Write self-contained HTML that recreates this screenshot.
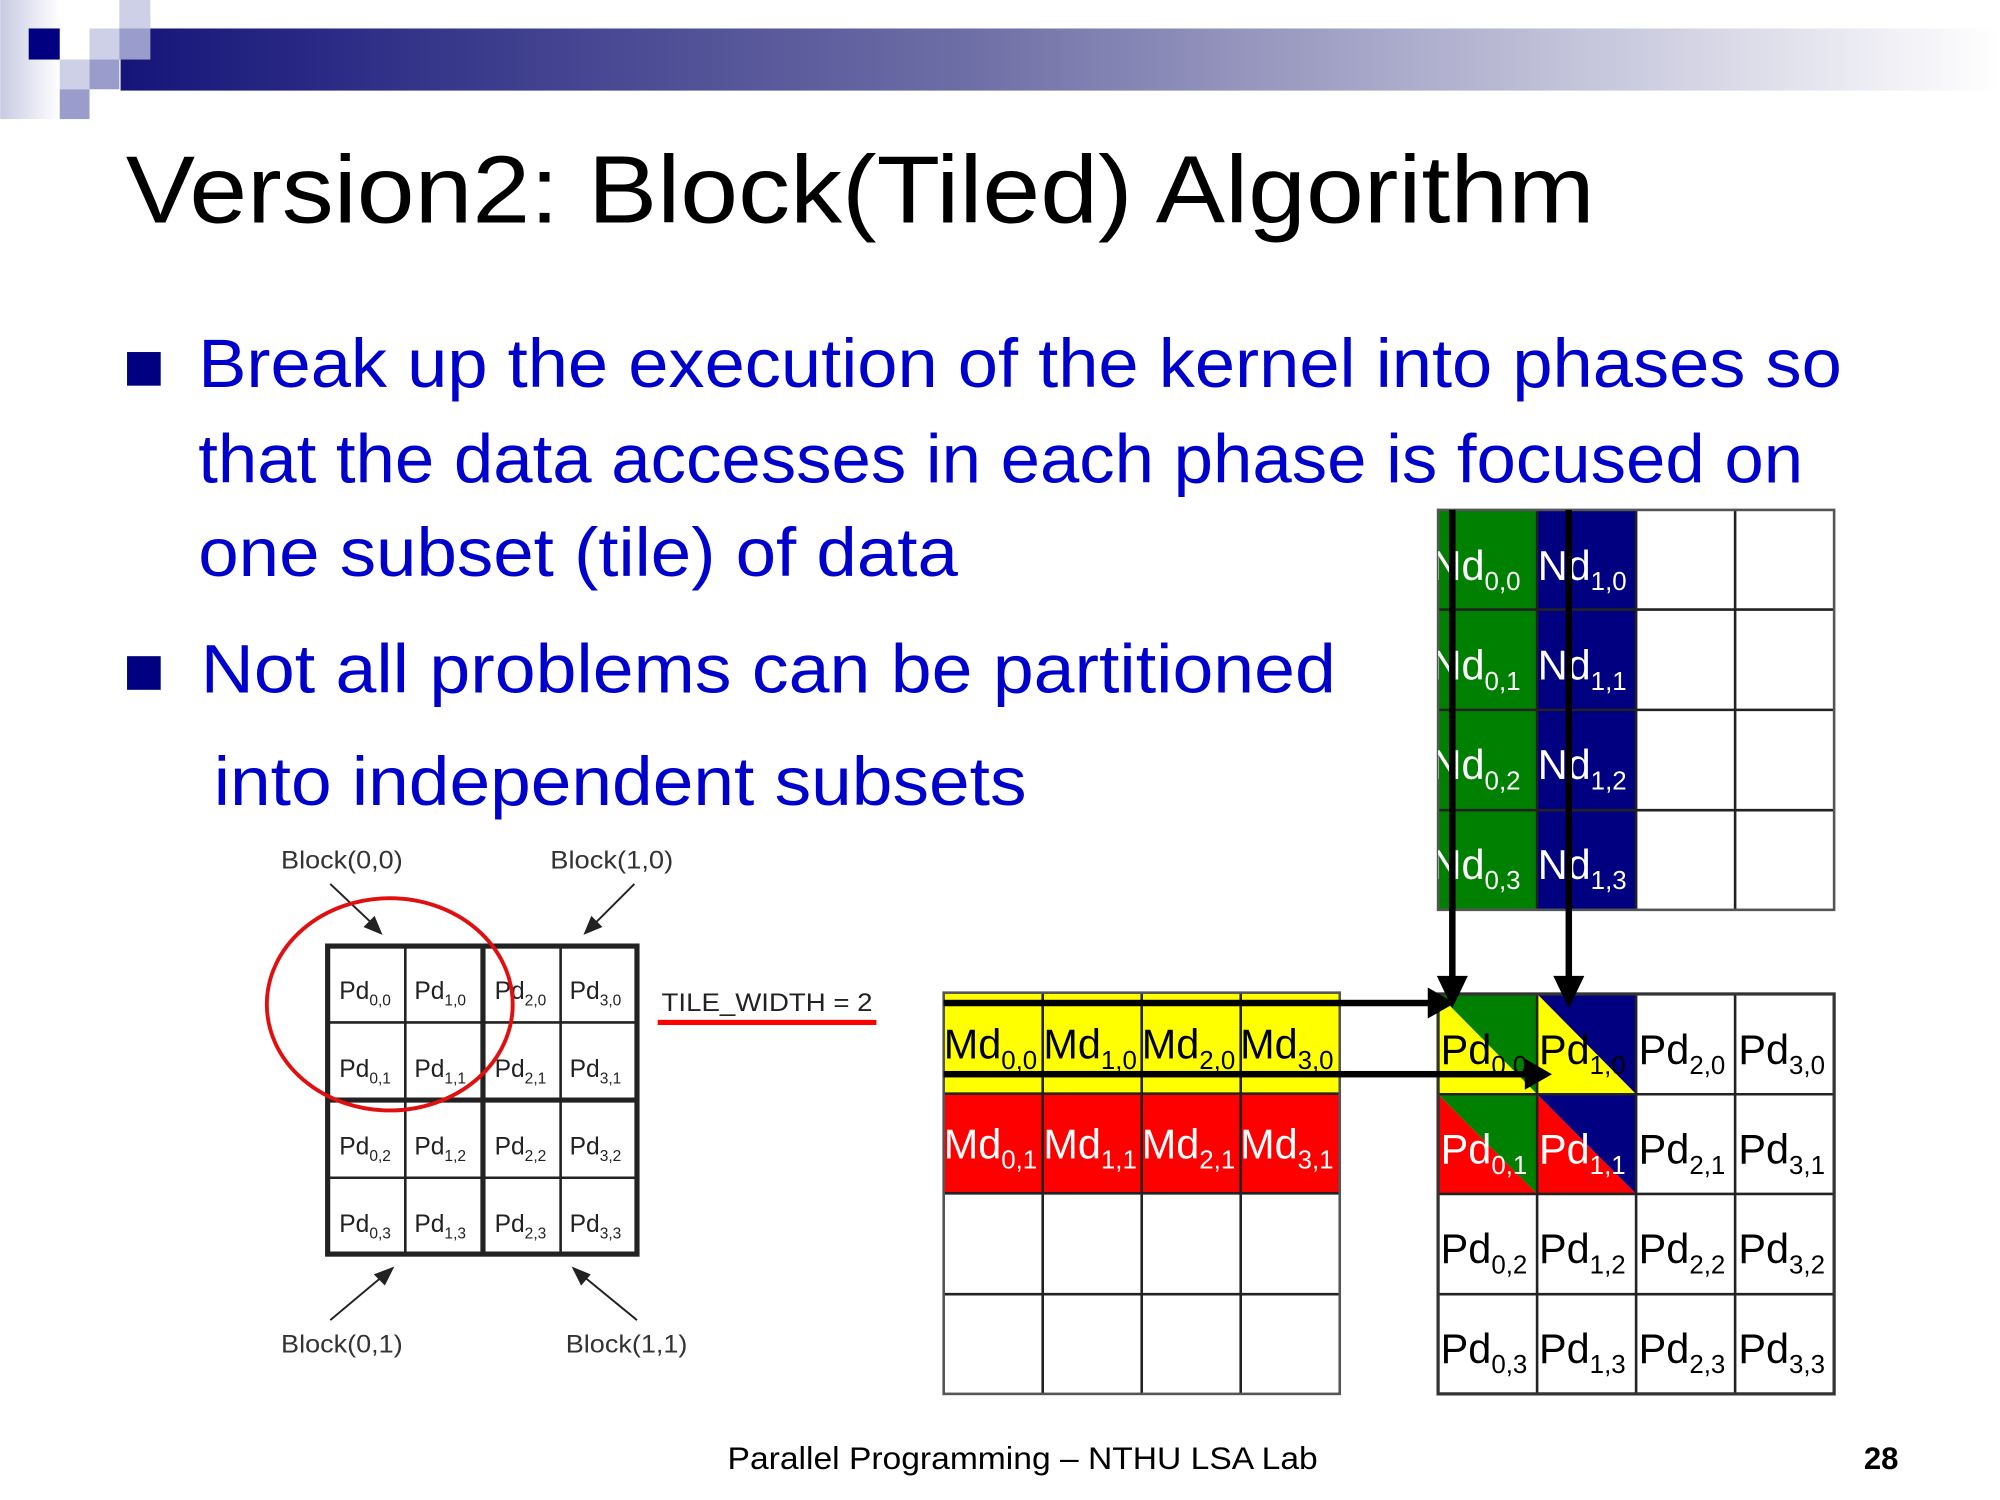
<!DOCTYPE html>
<html><head><meta charset="utf-8"><style>
html,body{margin:0;padding:0;background:#fff;width:2000px;height:1500px;overflow:hidden}
svg{display:block}
</style></head><body>
<svg width="2000" height="1500" viewBox="0 0 1545 1159" xmlns="http://www.w3.org/2000/svg" font-family="'Liberation Sans', sans-serif">
<defs>
<linearGradient id="bar" x1="0" x2="1" y1="0" y2="0">
<stop offset="0" stop-color="#15157a"/><stop offset="0.45" stop-color="#6e6ea6"/><stop offset="1" stop-color="#ffffff"/>
</linearGradient>
<linearGradient id="lstrip" x1="0" x2="1" y1="0" y2="0">
<stop offset="0" stop-color="#c8cae2"/><stop offset="1" stop-color="#ffffff"/>
</linearGradient>
<clipPath id="nclip"><rect x="1111" y="394" width="306" height="309"/></clipPath>
</defs>
<rect width="1545" height="1159" fill="#fff"/>
<rect x="0" y="0" width="46" height="92" fill="url(#lstrip)"/>
<rect x="93" y="22" width="1452" height="48" fill="url(#bar)"/>
<rect x="22" y="22" width="24" height="24" fill="#000080"/>
<rect x="69" y="22" width="23" height="24" fill="#cdd0e6"/>
<rect x="92" y="0" width="24" height="22" fill="#cdd0e6"/>
<rect x="92" y="22" width="24" height="24" fill="#9a9dcc"/>
<rect x="46" y="46" width="23" height="23" fill="#cdd0e6"/>
<rect x="69" y="46" width="23" height="23" fill="#9a9dcc"/>
<rect x="46" y="69" width="23" height="23" fill="#9a9dcc"/>
<text x="97" y="172" font-size="74" fill="#000" textLength="1135" lengthAdjust="spacingAndGlyphs">Version2: Block(Tiled) Algorithm</text>
<rect x="98" y="272" width="26" height="26" fill="#000080"/>
<rect x="98" y="507" width="26" height="26" fill="#000080"/>
<g font-size="53" fill="#0000cc">
<text x="153" y="299" textLength="1270" lengthAdjust="spacingAndGlyphs">Break up the execution of the kernel into phases so</text>
<text x="153" y="373" textLength="1240" lengthAdjust="spacingAndGlyphs">that the data accesses in each phase is focused on</text>
<text x="153" y="445" textLength="587" lengthAdjust="spacingAndGlyphs">one subset (tile) of data</text>
<text x="155" y="535" textLength="877" lengthAdjust="spacingAndGlyphs">Not all problems can be partitioned</text>
<text x="165" y="622" textLength="628" lengthAdjust="spacingAndGlyphs">into independent subsets</text>
</g>
<g font-size="19" fill="#333">
<text x="217" y="671" textLength="94" lengthAdjust="spacingAndGlyphs">Block(0,0)</text>
<text x="425" y="671" textLength="95" lengthAdjust="spacingAndGlyphs">Block(1,0)</text>
<text x="217" y="1045" textLength="94" lengthAdjust="spacingAndGlyphs">Block(0,1)</text>
<text x="437" y="1045" textLength="94" lengthAdjust="spacingAndGlyphs">Block(1,1)</text>
</g>
<g stroke="#222" stroke-width="1.5" fill="#222">
<line x1="255" y1="683" x2="290" y2="716"/><polygon points="294,721 282,716 289,709"/>
<line x1="490" y1="683" x2="457" y2="716"/><polygon points="452,721 457,709 464,716"/>
<line x1="255" y1="1020" x2="298" y2="984"/><polygon points="303,980 297,992 290,985"/>
<line x1="492" y1="1020" x2="448" y2="984"/><polygon points="443,980 455,985 449,992"/>
</g>
<g stroke="#222" fill="none">
<line x1="313" y1="730" x2="313" y2="970" stroke-width="2"/>
<line x1="433" y1="730" x2="433" y2="970" stroke-width="2"/>
<line x1="252" y1="790" x2="493" y2="790" stroke-width="2"/>
<line x1="252" y1="910" x2="493" y2="910" stroke-width="2"/>
<line x1="373" y1="730" x2="373" y2="970" stroke-width="4"/>
<line x1="252" y1="850" x2="493" y2="850" stroke-width="4"/>
<rect x="253" y="731" width="239" height="238" stroke-width="4"/>
</g>
<g font-size="19" fill="#222">
<text x="262" y="772">Pd<tspan font-size="12" dy="5">0,0</tspan></text>
<text x="320" y="772">Pd<tspan font-size="12" dy="5">1,0</tspan></text>
<text x="382" y="772">Pd<tspan font-size="12" dy="5">2,0</tspan></text>
<text x="440" y="772">Pd<tspan font-size="12" dy="5">3,0</tspan></text>
<text x="262" y="832">Pd<tspan font-size="12" dy="5">0,1</tspan></text>
<text x="320" y="832">Pd<tspan font-size="12" dy="5">1,1</tspan></text>
<text x="382" y="832">Pd<tspan font-size="12" dy="5">2,1</tspan></text>
<text x="440" y="832">Pd<tspan font-size="12" dy="5">3,1</tspan></text>
<text x="262" y="892">Pd<tspan font-size="12" dy="5">0,2</tspan></text>
<text x="320" y="892">Pd<tspan font-size="12" dy="5">1,2</tspan></text>
<text x="382" y="892">Pd<tspan font-size="12" dy="5">2,2</tspan></text>
<text x="440" y="892">Pd<tspan font-size="12" dy="5">3,2</tspan></text>
<text x="262" y="952">Pd<tspan font-size="12" dy="5">0,3</tspan></text>
<text x="320" y="952">Pd<tspan font-size="12" dy="5">1,3</tspan></text>
<text x="382" y="952">Pd<tspan font-size="12" dy="5">2,3</tspan></text>
<text x="440" y="952">Pd<tspan font-size="12" dy="5">3,3</tspan></text>
</g>
<ellipse cx="301" cy="776" rx="95" ry="82" fill="none" stroke="#e01010" stroke-width="3"/>
<text x="511" y="781" font-size="19" fill="#222" textLength="163" lengthAdjust="spacingAndGlyphs">TILE_WIDTH = 2</text>
<rect x="508" y="788" width="169" height="4" fill="#ff0000"/>
<rect x="729" y="767" width="306" height="78" fill="#ffff00"/>
<rect x="729" y="845" width="306" height="77" fill="#ff0000"/>
<g stroke="#222" stroke-width="2" fill="none">
<line x1="805.5" y1="767" x2="805.5" y2="1077"/><line x1="882" y1="767" x2="882" y2="1077"/><line x1="958.5" y1="767" x2="958.5" y2="1077"/>
<line x1="729" y1="845" x2="1035" y2="845"/><line x1="729" y1="922" x2="1035" y2="922"/><line x1="729" y1="1000" x2="1035" y2="1000"/>
<rect x="729" y="767" width="306" height="310" stroke="#555"/>
</g>
<g font-size="32" fill="#000">
<text x="729" y="818">Md<tspan font-size="20" dy="8">0,0</tspan></text>
<text x="806" y="818">Md<tspan font-size="20" dy="8">1,0</tspan></text>
<text x="882" y="818">Md<tspan font-size="20" dy="8">2,0</tspan></text>
<text x="958" y="818">Md<tspan font-size="20" dy="8">3,0</tspan></text>
</g>
<g font-size="32" fill="#fff">
<text x="729" y="895">Md<tspan font-size="20" dy="8">0,1</tspan></text>
<text x="806" y="895">Md<tspan font-size="20" dy="8">1,1</tspan></text>
<text x="882" y="895">Md<tspan font-size="20" dy="8">2,1</tspan></text>
<text x="958" y="895">Md<tspan font-size="20" dy="8">3,1</tspan></text>
</g>
<rect x="1111" y="394" width="76.5" height="309" fill="#008000"/>
<rect x="1187.5" y="394" width="76.5" height="309" fill="#000080"/>
<g stroke="#222" stroke-width="2" fill="none">
<line x1="1187.5" y1="394" x2="1187.5" y2="703"/><line x1="1264" y1="394" x2="1264" y2="703"/><line x1="1340.5" y1="394" x2="1340.5" y2="703"/>
<line x1="1111" y1="471" x2="1417" y2="471"/><line x1="1111" y1="548.5" x2="1417" y2="548.5"/><line x1="1111" y1="626" x2="1417" y2="626"/>
<rect x="1111" y="394" width="306" height="309" stroke="#555"/>
</g>
<g font-size="32" fill="#fff" clip-path="url(#nclip)">
<text x="1106" y="448">Nd<tspan font-size="20" dy="8">0,0</tspan></text>
<text x="1188" y="448">Nd<tspan font-size="20" dy="8">1,0</tspan></text>
<text x="1106" y="525">Nd<tspan font-size="20" dy="8">0,1</tspan></text>
<text x="1188" y="525">Nd<tspan font-size="20" dy="8">1,1</tspan></text>
<text x="1106" y="602">Nd<tspan font-size="20" dy="8">0,2</tspan></text>
<text x="1188" y="602">Nd<tspan font-size="20" dy="8">1,2</tspan></text>
<text x="1106" y="679">Nd<tspan font-size="20" dy="8">0,3</tspan></text>
<text x="1188" y="679">Nd<tspan font-size="20" dy="8">1,3</tspan></text>
</g>
<polygon points="1111,768 1187.5,768 1187.5,845.5" fill="#008000"/>
<polygon points="1111,768 1187.5,845.5 1111,845.5" fill="#ffff00"/>
<polygon points="1187.5,768 1264,768 1264,845.5" fill="#000080"/>
<polygon points="1187.5,768 1264,845.5 1187.5,845.5" fill="#ffff00"/>
<polygon points="1111,845.5 1187.5,845.5 1187.5,922.5" fill="#008000"/>
<polygon points="1111,845.5 1187.5,922.5 1111,922.5" fill="#ff0000"/>
<polygon points="1187.5,845.5 1264,845.5 1264,922.5" fill="#000080"/>
<polygon points="1187.5,845.5 1264,922.5 1187.5,922.5" fill="#ff0000"/>
<g stroke="#222" stroke-width="2" fill="none">
<line x1="1187.5" y1="768" x2="1187.5" y2="1077"/><line x1="1264" y1="768" x2="1264" y2="1077"/><line x1="1340.5" y1="768" x2="1340.5" y2="1077"/>
<line x1="1111" y1="845.5" x2="1417" y2="845.5"/><line x1="1111" y1="922.5" x2="1417" y2="922.5"/><line x1="1111" y1="1000" x2="1417" y2="1000"/>
<rect x="1111" y="768" width="306" height="309" stroke="#333" stroke-width="2.5"/>
</g>
<g font-size="32" fill="#000">
<text x="1113" y="822">Pd<tspan font-size="20" dy="8">0,0</tspan></text>
<text x="1189" y="822">Pd<tspan font-size="20" dy="8">1,0</tspan></text>
<text x="1266" y="822">Pd<tspan font-size="20" dy="8">2,0</tspan></text>
<text x="1343" y="822">Pd<tspan font-size="20" dy="8">3,0</tspan></text>
<text x="1266" y="899">Pd<tspan font-size="20" dy="8">2,1</tspan></text>
<text x="1343" y="899">Pd<tspan font-size="20" dy="8">3,1</tspan></text>
<text x="1113" y="976">Pd<tspan font-size="20" dy="8">0,2</tspan></text>
<text x="1189" y="976">Pd<tspan font-size="20" dy="8">1,2</tspan></text>
<text x="1266" y="976">Pd<tspan font-size="20" dy="8">2,2</tspan></text>
<text x="1343" y="976">Pd<tspan font-size="20" dy="8">3,2</tspan></text>
<text x="1113" y="1053">Pd<tspan font-size="20" dy="8">0,3</tspan></text>
<text x="1189" y="1053">Pd<tspan font-size="20" dy="8">1,3</tspan></text>
<text x="1266" y="1053">Pd<tspan font-size="20" dy="8">2,3</tspan></text>
<text x="1343" y="1053">Pd<tspan font-size="20" dy="8">3,3</tspan></text>
</g>
<g font-size="32" fill="#fff">
<text x="1113" y="899">Pd<tspan font-size="20" dy="8">0,1</tspan></text>
<text x="1189" y="899">Pd<tspan font-size="20" dy="8">1,1</tspan></text>
</g>
<g fill="#000">
<rect x="1119.5" y="394" width="5" height="362"/>
<polygon points="1110,754 1134,754 1122,779"/>
<rect x="1209.5" y="394" width="5" height="362"/>
<polygon points="1200,754 1224,754 1212,779"/>
<rect x="729" y="772.5" width="378" height="5"/>
<polygon points="1103,763 1103,787 1124,775"/>
<rect x="729" y="827.5" width="453" height="5"/>
<polygon points="1178,818 1178,842 1199,830"/>
</g>
<text x="562" y="1135" font-size="24" fill="#000" textLength="456" lengthAdjust="spacingAndGlyphs">Parallel Programming – NTHU LSA Lab</text>
<text x="1440" y="1135" font-size="24" font-weight="bold" fill="#000">28</text>
</svg>
</body></html>
